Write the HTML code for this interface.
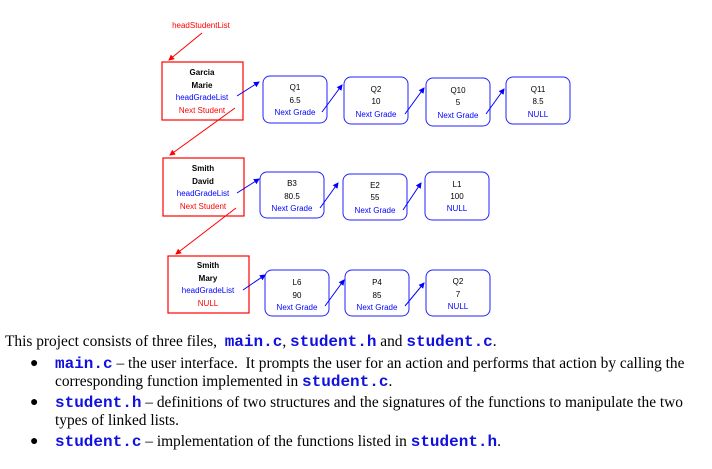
<!DOCTYPE html>
<html><head><style>
body{margin:0;width:712px;height:469px;background:#fff;overflow:hidden;position:relative;font-family:"Liberation Serif",serif;}
svg{position:absolute;left:0;top:0}
.t{position:absolute;font-size:15.4px;color:#000;white-space:nowrap;letter-spacing:0}
code{font-family:"Liberation Mono",monospace;color:#1010e0;font-weight:bold;font-size:16px;letter-spacing:0}
.b{position:absolute;left:30px;font-size:14px}
</style></head><body>
<svg width="712" height="330" font-family="Liberation Sans, sans-serif" font-size="8" text-anchor="middle">
<defs>
<marker id="r" markerWidth="6" markerHeight="6" refX="5" refY="3" orient="auto"><path d="M0,0L6,3L0,6z" fill="#f00"/></marker>
<marker id="bl" markerWidth="6" markerHeight="6" refX="5" refY="3" orient="auto"><path d="M0,0L6,3L0,6z" fill="#00f"/></marker>
</defs>
<text x="201" y="28" fill="#f00">headStudentList</text>
<g stroke="#f00" stroke-width="1" marker-end="url(#r)">
<line x1="202" y1="33" x2="169" y2="60"/>
<line x1="235" y1="108" x2="170" y2="155"/>
<line x1="236" y1="208" x2="176" y2="254"/>
</g>
<g fill="none" stroke="#f00" stroke-width="1.2">
<rect x="162" y="62" width="81" height="58"/>
<rect x="163" y="158" width="81" height="58"/>
<rect x="168" y="256" width="81" height="57"/>
</g>
<g font-weight="bold" fill="#000">
<text x="202" y="75">Garcia</text><text x="202" y="88">Marie</text>
<text x="203" y="171">Smith</text><text x="203" y="184">David</text>
<text x="208" y="268">Smith</text><text x="208" y="281">Mary</text>
</g>
<g fill="#00f">
<text x="202" y="100">headGradeList</text>
<text x="203" y="196">headGradeList</text>
<text x="208" y="293">headGradeList</text>
</g>
<g fill="#f00">
<text x="202" y="113">Next Student</text>
<text x="203" y="209">Next Student</text>
<text x="208" y="306">NULL</text>
</g>
<g fill="none" stroke="#2020ff" stroke-width="1">
<rect x="263" y="76" width="64" height="47" rx="7"/>
<rect x="344" y="77" width="64" height="47" rx="7"/>
<rect x="426" y="78" width="64" height="48" rx="7"/>
<rect x="506" y="77" width="64" height="47" rx="7"/>
<rect x="260" y="172" width="64" height="46" rx="7"/>
<rect x="343" y="174" width="64" height="46" rx="7"/>
<rect x="425" y="172" width="64" height="48" rx="7"/>
<rect x="265" y="270" width="64" height="46" rx="7"/>
<rect x="345" y="270" width="64" height="46" rx="7"/>
<rect x="426" y="270" width="64" height="46" rx="7"/>
</g>
<g stroke="#00f" stroke-width="1" marker-end="url(#bl)">
<line x1="237" y1="96" x2="259" y2="82"/>
<line x1="322" y1="112" x2="342" y2="85"/>
<line x1="405" y1="114" x2="424" y2="88"/>
<line x1="486" y1="114" x2="504" y2="89"/>
<line x1="237" y1="193" x2="259" y2="179"/>
<line x1="320" y1="208" x2="338" y2="183"/>
<line x1="403" y1="210" x2="421" y2="183"/>
<line x1="243" y1="290" x2="265" y2="275"/>
<line x1="325" y1="306" x2="344" y2="280"/>
<line x1="405" y1="306" x2="424" y2="283"/>
</g>
<g fill="#000">
<text x="295" y="90">Q1</text><text x="295" y="103">6.5</text>
<text x="376" y="92">Q2</text><text x="376" y="104">10</text>
<text x="458" y="93">Q10</text><text x="458" y="105">5</text>
<text x="538" y="92">Q11</text><text x="538" y="104">8.5</text>
<text x="292" y="186">B3</text><text x="292" y="199">80.5</text>
<text x="375" y="188">E2</text><text x="375" y="200">55</text>
<text x="457" y="187">L1</text><text x="457" y="199">100</text>
<text x="297" y="285">L6</text><text x="297" y="298">90</text>
<text x="377" y="285">P4</text><text x="377" y="298">85</text>
<text x="458" y="284">Q2</text><text x="458" y="297">7</text>
</g>
<g fill="#00f">
<text x="295" y="115">Next Grade</text>
<text x="376" y="117">Next Grade</text>
<text x="458" y="118">Next Grade</text>
<text x="538" y="117">NULL</text>
<text x="292" y="211">Next Grade</text>
<text x="375" y="213">Next Grade</text>
<text x="457" y="211">NULL</text>
<text x="297" y="310">Next Grade</text>
<text x="377" y="310">Next Grade</text>
<text x="458" y="309">NULL</text>
</g>
</svg>
<div class="t" style="left:5px;top:333px">This project consists of three files, &nbsp;<code>main.c</code>, <code>student.h</code> and <code>student.c</code>.</div>
<div class="b" style="top:356px">●</div>
<div class="t" style="left:55px;top:355px"><code>main.c</code> – the user interface. &nbsp;It prompts the user for an action and performs that action by calling the</div>
<div class="t" style="left:55px;top:373px">corresponding function implemented in <code>student.c</code>.</div>
<div class="b" style="top:395px">●</div>
<div class="t" style="left:55px;top:394px"><code>student.h</code> – definitions of two structures and the signatures of the functions to manipulate the two</div>
<div class="t" style="left:55px;top:412px">types of linked lists.</div>
<div class="b" style="top:434px">●</div>
<div class="t" style="left:55px;top:433px"><code>student.c</code> – implementation of the functions listed in <code>student.h</code>.</div>
</body></html>
